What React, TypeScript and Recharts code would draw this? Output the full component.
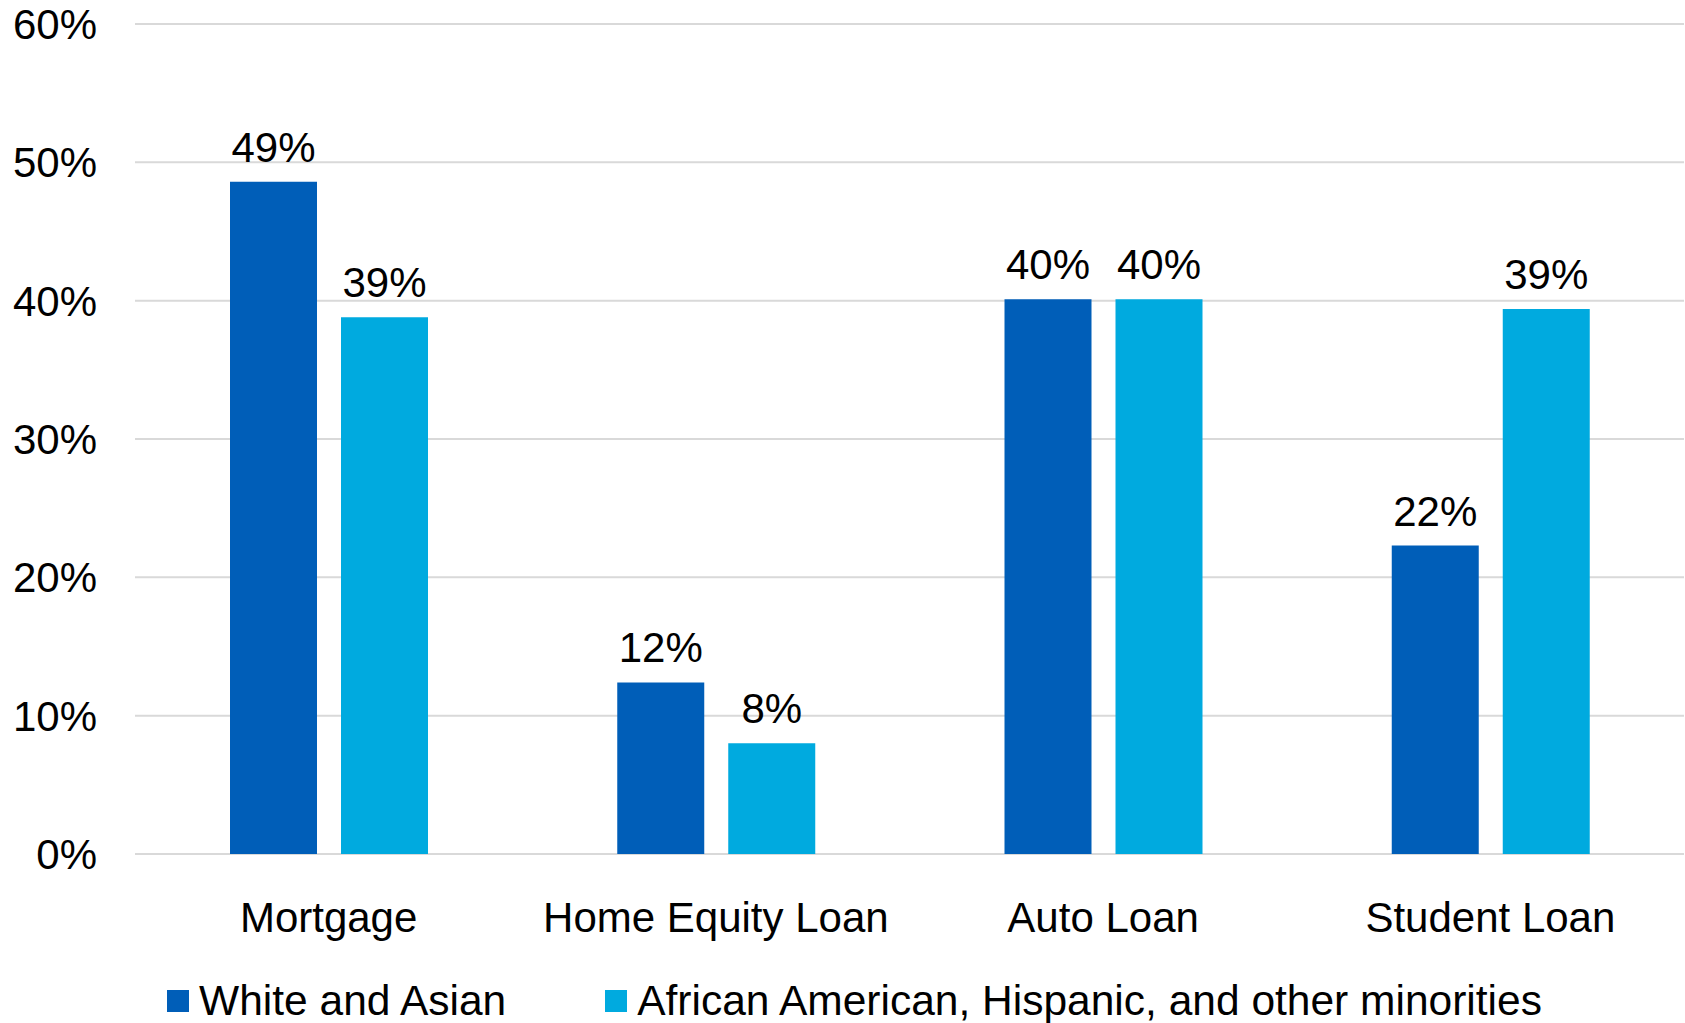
import { Bar, BarChart, CartesianGrid, LabelList, Legend, XAxis, YAxis } from 'recharts';

// Share of borrowers holding each loan type, by group.

const categories = ['Mortgage', 'Home Equity Loan', 'Auto Loan', 'Student Loan'];
const whiteAsian = [48.6, 12.4, 40.1, 22.3];
const minorities = [38.8, 8.0, 40.1, 39.4];
const yTicks = [0, 10, 20, 30, 40, 50, 60];
const seriesNames = ['White and Asian', 'African American, Hispanic, and other minorities'];

const DARK = '#005EB8';
const LIGHT = '#00AADF';
const FONT = '"Liberation Sans", Arial, sans-serif';

const data = categories.map((name, i) => ({
  name,
  white: whiteAsian[i],
  minority: minorities[i],
}));

const pct = (v: unknown) => `${Math.round(Number(v))}%`;

function LegendBox() {
  const items = [
    { label: seriesNames[0], color: DARK },
    { label: seriesNames[1], color: LIGHT },
  ];
  return (
    <div style={{ display: 'flex', justifyContent: 'center', gap: 99, paddingLeft: 24, fontFamily: FONT, fontSize: 42.5, lineHeight: '48px', color: '#000' }}>
      {items.map((it) => (
        <div key={it.label} style={{ display: 'flex', alignItems: 'center', gap: 10 }}>
          <span style={{ width: 22, height: 22, background: it.color, display: 'inline-block' }} />
          <span>{it.label}</span>
        </div>
      ))}
    </div>
  );
}

export default function App() {
  return (
    <div style={{ position: 'absolute', left: 0, top: 0 }}>
      <BarChart
        width={1685}
        height={1023}
        data={data}
        margin={{ top: 24, right: 1, left: 0, bottom: 109 }}
        barCategoryGap={94}
        barGap={24}
      >
        <CartesianGrid vertical={false} stroke="#D9D9D9" strokeWidth={2} />
        <XAxis
          dataKey="name"
          axisLine={false}
          tickLine={false}
          tickSize={0}
          tickMargin={48}
          height={60}
          interval={0}
          tick={{ fill: '#000', fontSize: 42, fontFamily: FONT }}
        />
        <YAxis
          width={135}
          domain={[0, 60]}
          ticks={yTicks}
          tickFormatter={pct}
          axisLine={false}
          tickLine={false}
          tickSize={0}
          tickMargin={38}
          tick={{ fill: '#000', fontSize: 42, fontFamily: FONT }}
        />
        <Legend
          verticalAlign="middle"
          align="center"
          layout="horizontal"
          content={() => <LegendBox />}
          wrapperStyle={{ top: 977, left: 0, width: 1685 }}
        />
        <Bar dataKey="white" name={seriesNames[0]} fill={DARK} barSize={87} isAnimationActive={false}>
          <LabelList dataKey="white" position="top" offset={20} formatter={pct} style={{ fill: '#000', fontSize: 42, fontFamily: FONT }} />
        </Bar>
        <Bar dataKey="minority" name={seriesNames[1]} fill={LIGHT} barSize={87} isAnimationActive={false}>
          <LabelList dataKey="minority" position="top" offset={20} formatter={pct} style={{ fill: '#000', fontSize: 42, fontFamily: FONT }} />
        </Bar>
      </BarChart>
    </div>
  );
}
